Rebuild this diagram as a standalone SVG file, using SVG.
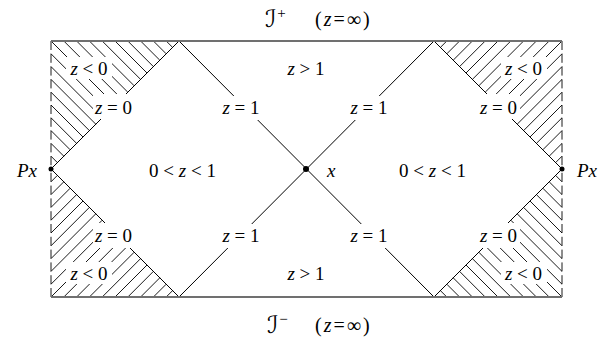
<svg xmlns="http://www.w3.org/2000/svg" xmlns:xlink="http://www.w3.org/1999/xlink" width="614" height="340" viewBox="0 0 614 340">
<style>
.t{font-family:"Liberation Serif","DejaVu Serif",serif;font-size:19px;fill:#000;}
.m{text-anchor:middle;}
.i{font-style:italic;}
.s{font-family:"DejaVu Sans","DejaVu Serif",serif;font-size:24px;font-style:normal;}
.ti{font-size:20px;letter-spacing:2px;}
.h{fill:none;stroke:#000;stroke-width:0.9;}
.ln{fill:none;stroke:#000;stroke-width:1;}
.bd{fill:none;stroke:#707070;stroke-width:2;}
.w{fill:#fff;stroke:none;}
</style>
<defs>
<path id="hatchTL" class="h" d="M51 41L115 105M63.8 41L121.4 98.6M76.6 41L127.8 92.2M89.4 41L134.2 85.8M102.2 41L140.6 79.4M115 41L147 73M127.8 41L153.4 66.6M140.6 41L159.8 60.2M153.4 41L166.2 53.8M166.2 41L172.6 47.4M51 53.8L108.6 111.4M51 66.6L102.2 117.8M51 79.4L95.8 124.2M51 92.2L89.4 130.6M51 105L83 137M51 117.8L76.6 143.4M51 130.6L70.2 149.8M51 143.4L63.8 156.2M51 156.2L57.4 162.6M51 41V50M51 53.8V62.8M51 66.6V75.6M51 79.4V88.4M51 92.2V101.2M51 105V114M51 117.8V126.8M51 130.6V139.6M51 143.4V152.4M51 156.2V165.2"/>
</defs>
<g id="hatching">
<use xlink:href="#hatchTL"/>
<use xlink:href="#hatchTL" transform="translate(613,0) scale(-1,1)"/>
<use xlink:href="#hatchTL" transform="translate(0,338) scale(1,-1)"/>
<use xlink:href="#hatchTL" transform="translate(613,338) scale(-1,-1)"/>
</g>
<g id="connectors">
<path class="ln" d="M51 169L179 41L434 297L562 169L434 41L179 297Z"/>
<line class="bd" x1="51" y1="41" x2="562" y2="41"/>
<line class="bd" x1="51" y1="297" x2="562" y2="297"/>
</g>
<g id="label-backgrounds">
<rect class="w" x="66" y="57" width="46" height="22"/>
<rect class="w" x="93" y="94" width="43" height="25"/>
<rect class="w" x="501" y="57" width="46" height="22"/>
<rect class="w" x="477" y="94" width="43" height="25"/>
<rect class="w" x="93" y="223" width="43" height="25"/>
<rect class="w" x="66" y="262" width="46" height="22"/>
<rect class="w" x="477" y="223" width="43" height="25"/>
<rect class="w" x="501" y="262" width="46" height="22"/>
<rect class="w" x="219" y="96" width="44" height="24"/>
<rect class="w" x="347" y="96" width="44" height="24"/>
<rect class="w" x="219" y="224" width="44" height="24"/>
<rect class="w" x="347" y="224" width="44" height="24"/>
</g>
<g id="node-x">
<circle cx="306" cy="169" r="3"/>
<text class="t i" x="327" y="177">x</text>
</g>
<g id="node-Px-left">
<circle cx="51" cy="169" r="2.5"/>
<text class="t i" x="37" y="177" text-anchor="end">Px</text>
</g>
<g id="node-Px-right">
<circle cx="562" cy="169" r="2.5"/>
<text class="t i" x="577" y="177">Px</text>
</g>
<g id="scri-plus">
<text class="t" x="265" y="27"><tspan class="s">ℐ</tspan><tspan font-size="15" dx="1" dy="-9">+</tspan></text>
<text class="t ti" x="315" y="26">(<tspan class="i">z</tspan>=∞)</text>
</g>
<g id="scri-minus">
<text class="t" x="267" y="333"><tspan class="s">ℐ</tspan><tspan font-size="15" dx="1" dy="-9">−</tspan></text>
<text class="t ti" x="315" y="332">(<tspan class="i">z</tspan>=∞)</text>
</g>
<g id="labels">
<text class="t m" x="89" y="75"><tspan class="i">z</tspan> &lt; 0</text>
<text class="t m" x="113.5" y="114"><tspan class="i">z</tspan> = 0</text>
<text class="t m" x="523.5" y="75"><tspan class="i">z</tspan> &lt; 0</text>
<text class="t m" x="498.5" y="114"><tspan class="i">z</tspan> = 0</text>
<text class="t m" x="113.5" y="242"><tspan class="i">z</tspan> = 0</text>
<text class="t m" x="89" y="280"><tspan class="i">z</tspan> &lt; 0</text>
<text class="t m" x="498.5" y="242"><tspan class="i">z</tspan> = 0</text>
<text class="t m" x="523.5" y="280"><tspan class="i">z</tspan> &lt; 0</text>
<text class="t m" x="241" y="114"><tspan class="i">z</tspan> = 1</text>
<text class="t m" x="369" y="114"><tspan class="i">z</tspan> = 1</text>
<text class="t m" x="241" y="242"><tspan class="i">z</tspan> = 1</text>
<text class="t m" x="369" y="242"><tspan class="i">z</tspan> = 1</text>
<text class="t m" x="306" y="75"><tspan class="i">z</tspan> &gt; 1</text>
<text class="t m" x="306" y="280"><tspan class="i">z</tspan> &gt; 1</text>
<text class="t m" x="182.5" y="177">0 &lt; <tspan class="i">z</tspan> &lt; 1</text>
<text class="t m" x="432.5" y="177">0 &lt; <tspan class="i">z</tspan> &lt; 1</text>
</g>
</svg>
